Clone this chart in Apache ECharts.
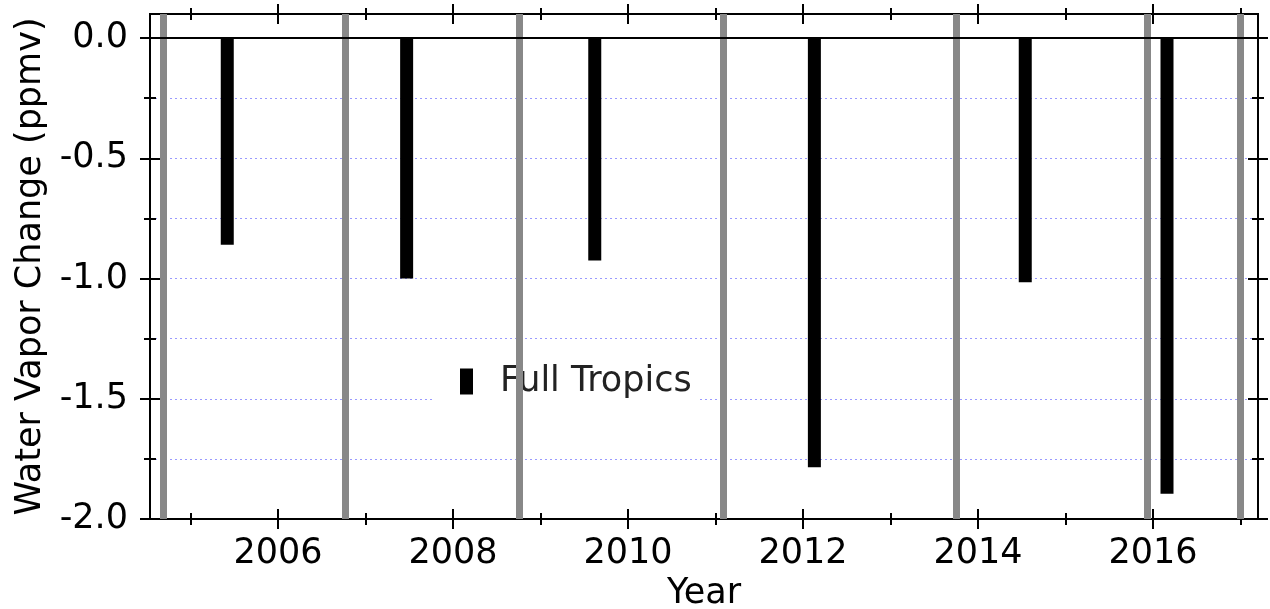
<!DOCTYPE html>
<html>
<head>
<meta charset="utf-8">
<script src="https://cdn.jsdelivr.net/npm/echarts@6/dist/echarts.min.js"></script>
<style>html,body{margin:0;padding:0;background:#fff}#c{width:1270px;height:609px}</style>
</head>
<body>
<div id="c"></div>
<script>
// ---- data ----
const barYears = [2005.42, 2007.47, 2009.62, 2012.13, 2014.54, 2016.16];
const barValues = [-0.86, -1.00, -0.925, -1.785, -1.015, -1.895];
const grayLineYears = [2004.69, 2006.77, 2008.76, 2011.09, 2013.75, 2015.93, 2017.00];
const xMajorTicks = [2006, 2008, 2010, 2012, 2014, 2016];
const xMinorTicks = [2005, 2007, 2009, 2011, 2013, 2015, 2017];
const yMajorTicks = [-2.0, -1.5, -1.0, -0.5, 0.0];
const yMinorTicks = [-1.75, -1.25, -0.75, -0.25];
const seriesName = 'Full Tropics';
const xName = 'Year';
const yName = 'Water Vapor Change (ppmv)';

const X_MIN = 2004.537, X_MAX = 2017.2, Y_MIN = -2.0, Y_MAX = 0.1;
const FONT = 'DejaVu Sans';
const FS = 35;

function tickAxis(base, pos, offset, len, ticks, extra) {
  return Object.assign({
    type: 'value', position: pos, offset: offset,
    min: base[0], max: base[1],
    axisLine: { show: false, onZero: false },
    axisTick: { show: true, inside: false, length: len, customValues: ticks,
      lineStyle: { color: '#000', width: 2 } },
    axisLabel: { show: false },
    splitLine: { show: false }
  }, extra || {});
}

const xr = [X_MIN, X_MAX], yr = [Y_MIN, Y_MAX];

const option = {
  animation: false,
  backgroundColor: '#fff',
  grid: { left: 150, top: 14, right: 12, bottom: 90, show: true,
    containLabel: false, outerBoundsMode: 'none',
    borderColor: '#000', borderWidth: 2, backgroundColor: 'transparent' },
  legend: {
    left: 433, top: 357,
    backgroundColor: '#fff',
    padding: [7, 6, 7, 27],
    itemWidth: 13, itemHeight: 26,
    icon: 'rect',
    textStyle: { fontFamily: FONT, fontSize: FS, color: '#222', padding: [0, 0, 0, 22] },
    data: [seriesName]
  },
  xAxis: [
    tickAxis(xr, 'bottom', -10, 20, xMajorTicks, {
      name: xName, nameLocation: 'middle', nameGap: 67,
      nameTextStyle: { fontFamily: FONT, fontSize: FS, color: '#000' },
      axisLabel: { show: true, customValues: xMajorTicks, margin: 27,
        fontFamily: FONT, fontSize: FS, color: '#000', formatter: v => String(Math.round(v)) }
    }),
    tickAxis(xr, 'bottom', -6, 12, xMinorTicks),
    tickAxis(xr, 'top', -10, 20, xMajorTicks),
    tickAxis(xr, 'top', -6, 12, xMinorTicks)
  ],
  yAxis: [
    tickAxis(yr, 'left', -10, 20, yMajorTicks, {
      name: yName, nameLocation: 'middle', nameGap: 97, nameRotate: 90,
      nameTextStyle: { fontFamily: FONT, fontSize: FS, color: '#000' },
      axisLabel: { show: true, customValues: yMajorTicks, margin: 32,
        fontFamily: FONT, fontSize: FS, color: '#000', formatter: v => v.toFixed(1) }
    }),
    tickAxis(yr, 'left', -6, 12, yMinorTicks),
    tickAxis(yr, 'right', -10, 20, yMajorTicks),
    tickAxis(yr, 'right', -6, 12, yMinorTicks),
    {
      type: 'value', position: 'left', min: Y_MIN, max: Y_MAX, interval: 0.25,
      axisLine: { show: false, onZero: false }, axisTick: { show: false }, axisLabel: { show: false },
      splitLine: { show: true, showMinLine: false, showMaxLine: false,
        lineStyle: { color: '#9a9aff', width: 1, type: [2, 3] } }
    }
  ],
  series: [
    {
      type: 'line', name: '_gray', xAxisIndex: 0, yAxisIndex: 0, data: [],
      silent: true, z: 2,
      markLine: {
        silent: true, symbol: ['none', 'none'], label: { show: false },
        lineStyle: { color: '#888', width: 7, type: 'solid' },
        emphasis: { disabled: true },
        data: grayLineYears.map(v => ({ xAxis: v }))
      }
    },
    {
      type: 'line', name: '_zero', xAxisIndex: 0, yAxisIndex: 0, data: [],
      silent: true, z: 3,
      markLine: {
        silent: true, symbol: ['none', 'none'], label: { show: false },
        lineStyle: { color: '#000', width: 2, type: 'solid' },
        emphasis: { disabled: true },
        data: [{ yAxis: 0 }]
      }
    },
    {
      type: 'bar', name: seriesName, xAxisIndex: 0, yAxisIndex: 0, z: 4,
      barWidth: 13,
      itemStyle: { color: '#000' },
      data: barYears.map((x, i) => [x, barValues[i]])
    }
  ]
};

const chart = echarts.init(document.getElementById('c'), null, { renderer: 'canvas' });
chart.setOption(option);
</script>
</body>
</html>
